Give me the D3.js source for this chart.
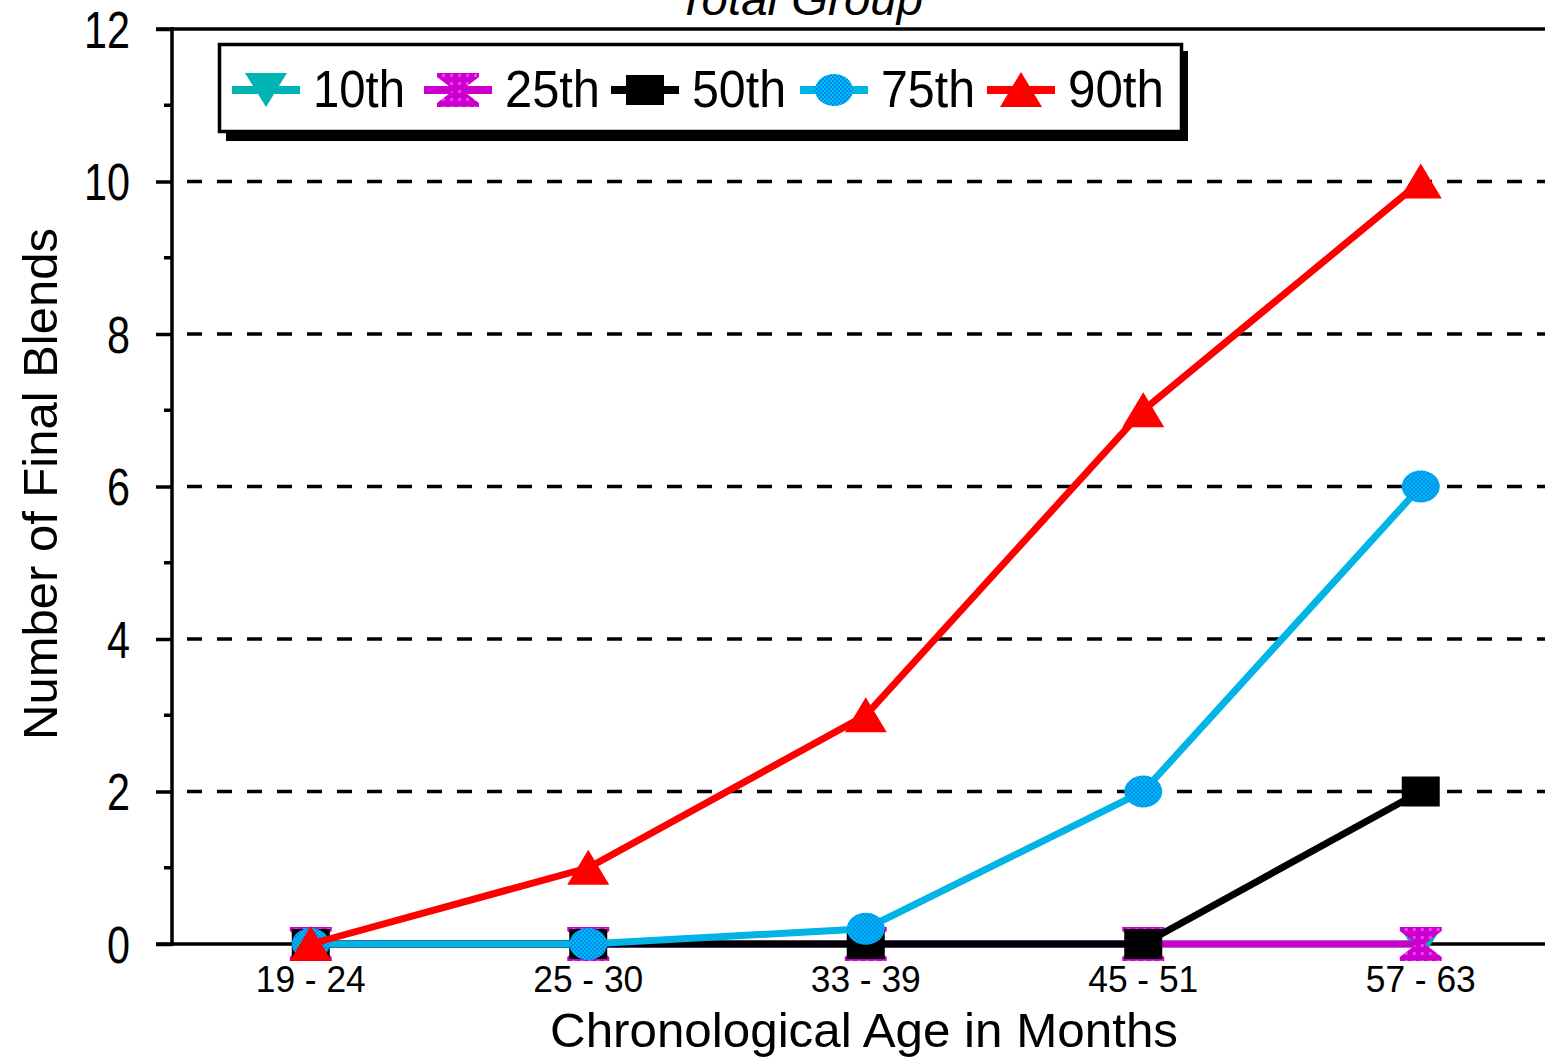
<!DOCTYPE html>
<html><head><meta charset="utf-8">
<script src="https://cdn.jsdelivr.net/npm/d3@7"></script>
<style>body{margin:0;background:#fff;} svg{display:block;} text{font-family:"Liberation Sans",Arial,sans-serif;fill:#000;}</style>
</head><body>
<svg id="c" width="1545" height="1061"></svg>
<script>
const categories = ["19 - 24", "25 - 30", "33 - 39", "45 - 51", "57 - 63"];
const seriesNames = ["10th", "25th", "50th", "75th", "90th"];
const p10 = [0, 0, 0, 0, 0];
const p25 = [0, 0, 0, 0, 0];
const p50 = [0, 0, 0, 0, 2];
const p75 = [0, 0, 0.2, 2, 6];
const p90 = [0, 1, 3, 7, 10];
const yTicks = [0, 2, 4, 6, 8, 10, 12];
const yMinor = [1, 3, 5, 7, 9, 11];
const titleText = "Total Group";
const xTitle = "Chronological Age in Months";
const yTitle = "Number of Final Blends";

const seriesValues = [p10, p25, p50, p75, p90];
const colors = ["#00b4b4", "#cc00cc", "#000000", "#00b4e6", "#ff0000"];
const shapes = ["tdown", "hourglass", "square", "circle", "tup"];

const svg = d3.select("#c");
const defs = svg.append("defs");
const pat = defs.append("pattern").attr("id","chk").attr("width",4).attr("height",4).attr("patternUnits","userSpaceOnUse");
pat.append("rect").attr("width",4).attr("height",4).attr("fill","#00c0f0");
pat.append("rect").attr("width",2).attr("height",2).attr("fill","#0088f0");
pat.append("rect").attr("x",2).attr("y",2).attr("width",2).attr("height",2).attr("fill","#0088f0");
const pat2 = defs.append("pattern").attr("id","mag").attr("width",8).attr("height",8).attr("patternUnits","userSpaceOnUse");
pat2.append("rect").attr("width",8).attr("height",8).attr("fill","#cc00cc");
pat2.append("rect").attr("width",3).attr("height",3).attr("fill","#ff33ff");

const x = d3.scaleBand().domain(categories).range([172, 1559.5]).padding(0);
const y = d3.scaleLinear().domain([0, 12]).range([944, 29]);
const cx = d => x(d) + x.bandwidth() / 2;

// grid lines
svg.append("g").selectAll("line").data(yTicks.filter(t => t > 0 && t < 12)).join("line")
  .attr("x1", 172).attr("x2", 1545).attr("y1", d => y(d)).attr("y2", d => y(d))
  .attr("stroke", "#000").attr("stroke-width", 3.5).attr("stroke-dasharray", "15,15").attr("stroke-dashoffset", -15);

// top border & x axis line
svg.append("line").attr("x1", 156).attr("x2", 1545).attr("y1", y(12)).attr("y2", y(12)).attr("stroke", "#000").attr("stroke-width", 3.5);
svg.append("line").attr("x1", 156).attr("x2", 1545).attr("y1", y(0)).attr("y2", y(0)).attr("stroke", "#000").attr("stroke-width", 3.5);

// y axis
const yAxis = d3.axisLeft(y).tickValues(yTicks).tickSize(16).tickPadding(26);
const gy = svg.append("g").attr("transform", "translate(172,0)").call(yAxis);
gy.select(".domain").attr("stroke", "#000").attr("stroke-width", 3.5).attr("d", `M0,${y(12)-2}V${y(0)+2}`);
gy.selectAll(".tick line").attr("stroke", "#000").attr("stroke-width", 3.5);
gy.selectAll(".tick text").attr("font-size", 51).attr("font-family", null).attr("dy", "0.36em").attr("fill", "#000")
  .attr("textLength", d => String(d).length * 23).attr("lengthAdjust", "spacingAndGlyphs");
svg.append("g").selectAll("line").data(yMinor).join("line")
  .attr("x1", 164).attr("x2", 172).attr("y1", d => y(d)).attr("y2", d => y(d)).attr("stroke", "#000").attr("stroke-width", 3.5);

// x labels
svg.append("g").selectAll("text").data(categories).join("text")
  .attr("x", d => cx(d)).attr("y", 992).attr("text-anchor", "middle").attr("font-size", 37)
  .attr("textLength", 110).attr("lengthAdjust", "spacingAndGlyphs").text(d => d);

// titles
svg.append("text").attr("x", 800).attr("y", 15).attr("text-anchor", "middle").attr("font-size", 46).attr("font-style", "italic")
  .attr("textLength", 246).attr("lengthAdjust", "spacingAndGlyphs").text(titleText);
svg.append("text").attr("x", 864).attr("y", 1047).attr("text-anchor", "middle").attr("font-size", 49)
  .attr("textLength", 628).attr("lengthAdjust", "spacingAndGlyphs").text(xTitle);
svg.append("text").attr("transform", "translate(57,484) rotate(-90)").attr("text-anchor", "middle").attr("font-size", 49)
  .attr("textLength", 512).attr("lengthAdjust", "spacingAndGlyphs").text(yTitle);

function markerPath(shape) {
  switch (shape) {
    case "tdown": return "M-21,-17H21L0,17Z";
    case "tup": return "M0,-18L21,17H-21Z";
    case "hourglass": return "M-21,-17H21V-13L4,0L21,13V17H-21V13L-4,0L-21,-13Z";
    case "square": return "M-19,-15H19V15H-19Z";
  }
  return null;
}
function drawMarker(g, shape, color) {
  if (shape === "circle") {
    g.append("ellipse").attr("rx", 19).attr("ry", 16).attr("fill", "url(#chk)");
  } else {
    g.append("path").attr("d", markerPath(shape)).attr("fill", shape === "hourglass" ? "url(#mag)" : color);
  }
}

// series
const line = d3.line().x((d, i) => cx(categories[i])).y(d => y(d));
seriesValues.forEach((vals, si) => {
  const g = svg.append("g");
  g.append("path").datum(vals).attr("d", line).attr("fill", "none").attr("stroke", colors[si]).attr("stroke-width", 7);
  vals.forEach((v, i) => {
    const m = g.append("g").attr("transform", `translate(${cx(categories[i])},${y(v)})`);
    drawMarker(m, shapes[si], colors[si]);
  });
});

// legend
const lg = svg.append("g");
lg.append("rect").attr("x", 226).attr("y", 51).attr("width", 962).attr("height", 90).attr("fill", "#000");
lg.append("rect").attr("x", 219.5).attr("y", 44.5).attr("width", 962).attr("height", 87).attr("fill", "#fff").attr("stroke", "#000").attr("stroke-width", 3.5);
const legX = [232, 424, 611, 800, 987];
const legTextW = [92, 95, 94, 94, 96];
seriesNames.forEach((n, i) => {
  const g = lg.append("g");
  g.append("line").attr("x1", legX[i]).attr("x2", legX[i] + 68).attr("y1", 90).attr("y2", 90).attr("stroke", colors[i]).attr("stroke-width", 8);
  const m = g.append("g").attr("transform", `translate(${legX[i] + 34},90)`);
  drawMarker(m, shapes[i], colors[i]);
  g.append("text").attr("x", legX[i] + 81).attr("y", 107).attr("font-size", 51)
    .attr("textLength", legTextW[i]).attr("lengthAdjust", "spacingAndGlyphs").text(n);
});
</script>
</body></html>
